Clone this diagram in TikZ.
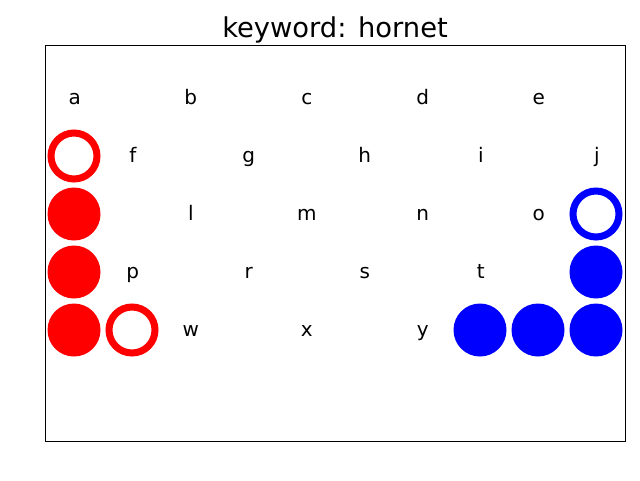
\documentclass[tikz,border=0pt]{standalone}
\usepackage{fontspec}
\setmainfont{DejaVu Sans}
\usepackage{xcolor}
\usetikzlibrary{positioning}

\begin{document}
\begin{tikzpicture}[
                x=0.75pt, y=-0.75pt,
                letter/.style={font=\fontsize{15}{18}\selectfont, inner sep=0pt, anchor=base, yshift=-4.7pt, xshift=0.6pt},
                dot/.style={circle, fill, inner sep=0pt, minimum size=39.75pt},
                ring/.style={circle, draw, line width=5.25pt, inner sep=0pt, minimum size=34.5pt}
            ]
                \useasboundingbox (0,0) rectangle (640,480);

                % Frame and title
                \node[draw, line width=0.6pt, inner sep=0pt, minimum width=435pt, minimum height=297pt] (frame) at (335,243) {};
                \node[anchor=base, font=\fontsize{20.5}{24}\selectfont] (title) at ([yshift=5.6pt]frame.north) {keyword: hornet};

                % Letters
                \node[letter] (a) at (74,98) {a};
                \node[letter] (b) at (190,98) {b};
                \node[letter] (c) at (306,98) {c};
                \node[letter] (d) at (422,98) {d};
                \node[letter] (e) at (538,98) {e};
                \node[letter] (f) at (132,156) {f};
                \node[letter] (g) at (248,156) {g};
                \node[letter] (h) at (364,156) {h};
                \node[letter] (i) at (480,156) {i};
                \node[letter] (j) at (596,156) {j};
                \node[letter] (l) at (190,214) {l};
                \node[letter] (m) at (306,214) {m};
                \node[letter] (n) at (422,214) {n};
                \node[letter] (o) at (538,214) {o};
                \node[letter] (p) at (132,272) {p};
                \node[letter] (r) at (248,272) {r};
                \node[letter] (s) at (364,272) {s};
                \node[letter] (t) at (480,272) {t};
                \node[letter] (w) at (190,330) {w};
                \node[letter] (x) at (306,330) {x};
                \node[letter] (y) at (422,330) {y};

                % Red markers
                \node[ring, red] (redstart) at (74,156) {};
                \node[dot, red] (red1) at (74,214) {};
                \node[dot, red] (red2) at (74,272) {};
                \node[dot, red] (red3) at (74,330) {};
                \node[ring, red] (redend) at (132,330) {};

                % Blue markers
                \node[ring, blue] (bluestart) at (596,214) {};
                \node[dot, blue] (blue1) at (596,272) {};
                \node[dot, blue] (blue2) at (596,330) {};
                \node[dot, blue] (blue3) at (538,330) {};
                \node[dot, blue] (blue4) at (480,330) {};
            \end{tikzpicture}
\end{document}
